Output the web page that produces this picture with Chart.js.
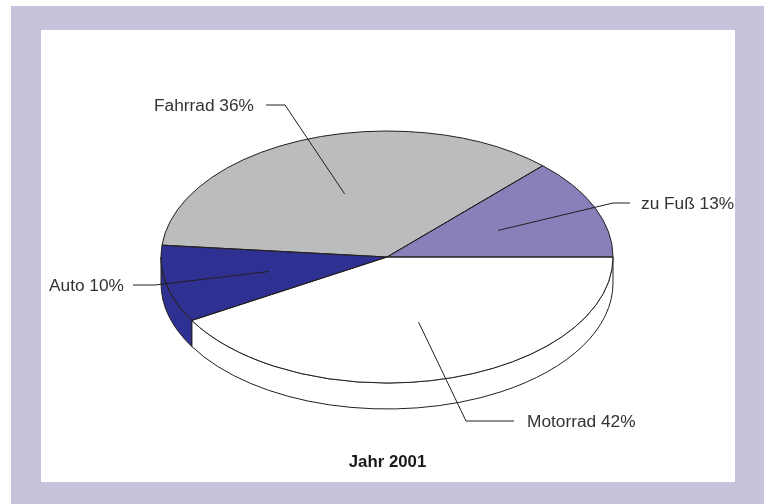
<!DOCTYPE html>
<html>
<head>
<meta charset="utf-8">
<style>html,body{margin:0;padding:0;background:#fff}canvas{display:block}</style>
<script src="https://cdn.jsdelivr.net/npm/chart.js@4"></script>
</head>
<body>
<canvas id="c" width="770" height="504"></canvas>
<script>
const categories = ['Motorrad', 'Auto', 'Fahrrad', 'zu Fuß'];
const shares = [41.6, 9.9, 35.6, 12.9];
const shownPercent = [42, 10, 36, 13];
const sliceColors = ['#ffffff', '#2e3192', '#bbbcbe', '#8880b9'];
const chartTitle = 'Jahr 2001';

const TILT = 126 / 226, DEPTH = 26, EDGE = '#231f20', TEXT = '#333333';
const FONT = '17.3px "Liberation Sans", Arial, sans-serif';
// bend of each leader line, and where its label starts
const leaders = [
  {bend: [466, 421], end: [514, 421], text: [527, 422]},
  {bend: [155, 285], end: [133, 285], text: [49, 286]},
  {bend: [285, 105], end: [266, 105], text: [154, 106]},
  {bend: [613, 203], end: [630, 203], text: [641, 204]}
];

const pie3d = {
  id: 'pie3d',
  beforeDraw(chart) {
    const c = chart.ctx;
    c.save();
    c.fillStyle = '#c6c3dd';
    c.fillRect(11, 6, 753, 498);
    c.fillStyle = '#ffffff';
    c.fillRect(41, 30, 694, 452);
    c.restore();
  },
  beforeDatasetsDraw(chart) {
    const c = chart.ctx, arcs = chart.getDatasetMeta(0).data;
    const {x: cx, y: cy, outerRadius: r} = arcs[0];
    c.save();
    arcs.forEach((a, i) => {
      const s = Math.max(0, a.startAngle), e = Math.min(Math.PI, a.endAngle);
      if (e <= s) return;
      c.beginPath();
      c.ellipse(cx, cy, r, r * TILT, 0, s, e);
      c.ellipse(cx, cy + DEPTH, r, r * TILT, 0, e, s, true);
      c.closePath();
      c.fillStyle = sliceColors[i];
      c.fill();
      c.strokeStyle = EDGE;
      c.lineWidth = 1;
      c.stroke();
    });
    c.restore();
    c.save();
    c.translate(cx, cy);
    c.scale(1, TILT);
    c.translate(-cx, -cy);
  },
  afterDatasetsDraw(chart) {
    const c = chart.ctx, arcs = chart.getDatasetMeta(0).data;
    c.restore();
    const {x: cx, y: cy, outerRadius: r} = arcs[0];
    c.save();
    c.strokeStyle = EDGE;
    c.lineWidth = 1;
    arcs.forEach(a => {
      c.beginPath();
      c.moveTo(cx, cy);
      c.ellipse(cx, cy, r, r * TILT, 0, a.startAngle, a.endAngle);
      c.closePath();
      c.stroke();
    });
    arcs.forEach((a, i) => {
      const mid = (a.startAngle + a.endAngle) / 2, f = 0.535, l = leaders[i];
      c.beginPath();
      c.moveTo(cx + r * f * Math.cos(mid), cy + r * f * TILT * Math.sin(mid));
      c.lineTo(l.bend[0], l.bend[1]);
      c.lineTo(l.end[0], l.end[1]);
      c.stroke();
      c.fillStyle = TEXT;
      c.font = FONT;
      c.textAlign = 'left';
      c.textBaseline = 'middle';
      c.fillText(categories[i] + ' ' + shownPercent[i] + '%', l.text[0], l.text[1]);
    });
    c.fillStyle = '#1a1a1a';
    c.font = 'bold 16.8px "Liberation Sans", Arial, sans-serif';
    c.textAlign = 'center';
    c.textBaseline = 'middle';
    c.fillText(chartTitle, 387.5, 462);
    c.restore();
  }
};

new Chart(document.getElementById('c'), {
  type: 'pie',
  data: {
    labels: categories,
    datasets: [{data: shares, backgroundColor: sliceColors, borderWidth: 0, hoverOffset: 0}]
  },
  options: {
    responsive: false,
    animation: false,
    rotation: 90,
    layout: {padding: {left: 161, right: 157, top: 31, bottom: 21}},
    plugins: {legend: {display: false}, title: {display: false}, tooltip: {enabled: false}}
  },
  plugins: [pie3d]
});
</script>
</body>
</html>
